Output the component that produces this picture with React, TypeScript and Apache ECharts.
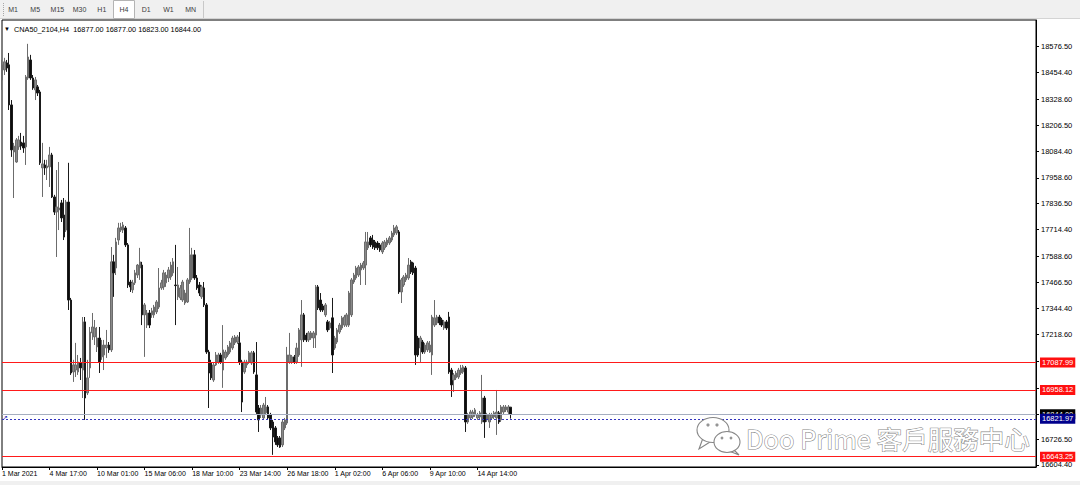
import React, { useEffect, useRef } from 'react';
import * as echarts from 'echarts';

// ---- data (H4 candles) ----
const opens = [
  18420, 18467, 18500, 18491, 18302, 18080, 18033, 18104, 18127, 18123,
  18104, 18429, 18514, 18429, 18373, 18387, 18363, 18005, 18019, 18005,
  18010, 18066, 17868, 17797, 17807, 17840, 17783, 17712, 17844, 17382,
  17043, 17052, 17043, 17085, 17052, 17279, 16944, 17062, 17227, 17208,
  17161, 17203, 17114, 17123, 17156, 17170, 17147, 17562, 17533, 17665,
  17712, 17712, 17722, 17642, 17467, 17430, 17463, 17500, 17533, 17547,
  17312, 17264, 17321, 17312, 17312, 17326, 17349, 17439, 17444, 17463,
  17486, 17491, 17510, 17453, 17397, 17392, 17382, 17368, 17373, 17467,
  17486, 17595, 17486, 17453, 17397, 17439, 17359, 17137, 17085, 17005,
  17076, 17090, 17123, 17052, 17109, 17123, 17137, 17156, 17180, 17184,
  17180, 17090, 17043, 17076, 17090, 17085, 17133, 17029, 16873, 16840,
  16826, 16850, 16878, 16840, 16807, 16779, 16732, 16732, 16699, 16779,
  16802, 17090, 17090, 17114, 17090, 17123, 17194, 17312, 17217, 17194,
  17203, 17203, 17217, 17444, 17382, 17354, 17312, 17279, 17250, 17298,
  17156, 17184, 17231, 17250, 17264, 17264, 17264, 17312, 17467, 17486,
  17500, 17524, 17533, 17547, 17628, 17675, 17665, 17656, 17651, 17642,
  17609, 17628, 17642, 17651, 17665, 17689, 17698, 17703, 17420, 17453,
  17477, 17486, 17562, 17557, 17533, 17203, 17156, 17184, 17137, 17147,
  17137, 17123, 17264, 17274, 17302, 17288, 17250, 17279, 17302, 17052,
  17005, 17015, 17019, 17038, 17043, 17062, 16807, 16826, 16831, 16840,
  16826, 16831, 16807, 16920, 16817, 16807, 16826, 16831, 16826, 16850,
  16817, 16854, 16864, 16854, 16877,
];
const closes = [
  18491, 18505, 18476, 18302, 18090, 18108, 18137, 18137, 18108, 18099,
  18434, 18528, 18429, 18382, 18420, 18358, 18029, 18024, 18005, 18014,
  18066, 17868, 17797, 17821, 17816, 17769, 17679, 17844, 17382, 17038,
  17076, 17076, 17090, 17062, 17279, 16920, 17015, 17231, 17255, 17250,
  17203, 17090, 17170, 17170, 17170, 17147, 17562, 17510, 17656, 17722,
  17727, 17736, 17642, 17453, 17444, 17463, 17510, 17547, 17562, 17312,
  17359, 17321, 17264, 17331, 17349, 17373, 17439, 17463, 17510, 17500,
  17524, 17547, 17562, 17450, 17453, 17439, 17467, 17415, 17477, 17595,
  17595, 17486, 17439, 17415, 17444, 17359, 17137, 17038, 17015, 17076,
  17123, 17123, 17090, 17147, 17137, 17161, 17180, 17203, 17208, 17208,
  17090, 16901, 17090, 17090, 17133, 17133, 17043, 16854, 16817, 16873,
  16887, 16878, 16826, 16779, 16736, 16713, 16699, 16689, 16807, 16817,
  17123, 17123, 17114, 17090, 17156, 17241, 17312, 17194, 17194, 17227,
  17227, 17227, 17444, 17345, 17335, 17335, 17359, 17241, 17274, 17123,
  17203, 17241, 17264, 17298, 17302, 17312, 17415, 17477, 17500, 17533,
  17538, 17547, 17557, 17656, 17656, 17642, 17632, 17628, 17628, 17618,
  17651, 17656, 17665, 17675, 17698, 17722, 17727, 17420, 17477, 17491,
  17500, 17547, 17514, 17510, 17123, 17123, 17203, 17137, 17170, 17180,
  17170, 17302, 17298, 17302, 17274, 17264, 17279, 17250, 17043, 16982,
  17029, 17038, 17052, 17062, 17067, 16807, 16840, 16854, 16854, 16864,
  16840, 16850, 16920, 16807, 16840, 16840, 16840, 16850, 16854, 16807,
  16878, 16878, 16878, 16878, 16844,
];
const lows = [
  18373, 18443, 18458, 18278, 18057, 17863, 18029, 18090, 18090, 18076,
  18019, 18420, 18420, 18373, 18325, 18344, 18019, 17868, 17972, 17948,
  17915, 17863, 17783, 17585, 17712, 17750, 17665, 17703, 17335, 17029,
  16996, 17019, 17029, 17005, 16920, 16817, 16934, 17015, 17194, 17170,
  17137, 17038, 17100, 17052, 17109, 17133, 17137, 17397, 17500, 17642,
  17703, 17698, 17632, 17439, 17420, 17415, 17453, 17486, 17477, 17264,
  17114, 17250, 17250, 17298, 17298, 17316, 17340, 17430, 17430, 17444,
  17467, 17477, 17496, 17264, 17382, 17382, 17373, 17359, 17368, 17458,
  17477, 17477, 17430, 17401, 17387, 17349, 17128, 16873, 17005, 16996,
  17071, 17081, 17081, 16968, 17100, 17114, 17128, 17147, 17170, 17175,
  17076, 16854, 17034, 17062, 17081, 17076, 17034, 16845, 16760, 16826,
  16817, 16840, 16817, 16769, 16652, 16699, 16689, 16685, 16689, 16769,
  16793, 17081, 17081, 17081, 17081, 17114, 17067, 17184, 17184, 17184,
  17194, 17156, 17156, 17335, 17326, 17326, 17302, 17231, 17241, 17038,
  17147, 17175, 17222, 17241, 17255, 17255, 17255, 17302, 17458, 17477,
  17491, 17453, 17524, 17453, 17618, 17632, 17623, 17618, 17618, 17609,
  17599, 17618, 17632, 17642, 17656, 17679, 17689, 17411, 17368, 17444,
  17467, 17477, 17505, 17500, 17076, 17114, 17090, 17128, 17128, 17137,
  17133, 17029, 17255, 17264, 17264, 17255, 17241, 17241, 17034, 16925,
  16949, 17005, 17010, 17029, 17034, 16760, 16798, 16817, 16821, 16831,
  16817, 16821, 16798, 16732, 16807, 16779, 16817, 16821, 16746, 16798,
  16807, 16845, 16854, 16845, 16823,
];
const highs = [
  18514, 18524, 18514, 18547, 18325, 18123, 18146, 18156, 18170, 18156,
  18443, 18590, 18538, 18443, 18434, 18396, 18373, 18123, 18043, 18043,
  18104, 18076, 17878, 17995, 18033, 17854, 17863, 17854, 18029, 17392,
  17100, 17180, 17123, 17109, 17302, 17302, 17100, 17255, 17321, 17288,
  17255, 17255, 17194, 17194, 17241, 17184, 17632, 17595, 17675, 17746,
  17746, 17750, 17731, 17651, 17477, 17477, 17524, 17552, 17628, 17562,
  17368, 17335, 17335, 17345, 17359, 17382, 17533, 17477, 17524, 17514,
  17538, 17562, 17580, 17642, 17538, 17453, 17477, 17430, 17486, 17722,
  17628, 17618, 17500, 17467, 17453, 17467, 17368, 17147, 17100, 17090,
  17137, 17133, 17133, 17264, 17147, 17170, 17189, 17213, 17217, 17217,
  17231, 17100, 17100, 17100, 17142, 17142, 17142, 17184, 16887, 16887,
  16897, 16925, 16887, 16850, 16817, 16788, 16741, 16741, 16817, 16826,
  17161, 17227, 17123, 17123, 17180, 17250, 17382, 17321, 17227, 17236,
  17236, 17236, 17453, 17453, 17415, 17364, 17368, 17288, 17283, 17392,
  17213, 17250, 17274, 17307, 17312, 17321, 17425, 17486, 17510, 17543,
  17547, 17557, 17566, 17703, 17703, 17684, 17689, 17665, 17660, 17651,
  17660, 17665, 17675, 17684, 17708, 17736, 17736, 17712, 17486, 17500,
  17510, 17580, 17571, 17562, 17543, 17213, 17213, 17194, 17180, 17189,
  17189, 17312, 17382, 17312, 17312, 17298, 17288, 17288, 17326, 17062,
  17038, 17048, 17062, 17076, 17076, 17071, 16850, 16864, 16864, 16873,
  16850, 16859, 17029, 16930, 16850, 16850, 16850, 16859, 16958, 16859,
  16887, 16887, 16887, 16887, 16877,
];

const timeLabels = [
  '1 Mar 2021', '4 Mar 17:00', '10 Mar 01:00', '15 Mar 06:00', '18 Mar 10:00',
  '23 Mar 14:00', '26 Mar 18:00', '1 Apr 02:00', '6 Apr 06:00', '9 Apr 10:00', '14 Apr 14:00',
];
const BARS_PER_LABEL = 20;
const TOTAL_SLOTS = 436;

const priceTicks = [
  18576.5, 18454.4, 18328.6, 18206.5, 18084.4, 17958.6, 17836.5, 17714.4, 17588.6,
  17466.5, 17344.4, 17218.6, 17092.5, 16966.4, 16844.3, 16726.5, 16604.4,
];
const hiddenTickLabels = [17092.5, 16966.4, 16844.3];
const Y_MIN = 16594.8;
const Y_MAX = 18702.4;

const redLevels = [17087.99, 16958.12, 16643.25];
const bidLevel = 16844.0;
const dottedLevel = 16821.97;

const symbolName = 'CNA50_2104,H4';
const lastBar = [16877.0, 16877.0, 16823.0, 16844.0];
const periods = ['M1', 'M5', 'M15', 'M30', 'H1', 'H4', 'D1', 'W1', 'MN'];
const activePeriod = 'H4';
const watermark = 'Doo Prime 客戶服務中心';

const FONT = '"Liberation Sans", Arial, sans-serif';

export default function App() {
  const ref = useRef<HTMLDivElement>(null);

  useEffect(() => {
    if (!ref.current) return;
    const chart = echarts.init(ref.current, undefined, { renderer: 'svg' });

    const categories = Array.from({ length: TOTAL_SLOTS }, (_, i) =>
      i % BARS_PER_LABEL === 0 && i / BARS_PER_LABEL < timeLabels.length
        ? timeLabels[i / BARS_PER_LABEL]
        : ''
    );
    const candles = opens.map((o, i) => [o, closes[i], lows[i], highs[i]]);
    const labelValues = priceTicks.filter((v) => !hiddenTickLabels.includes(v));
    const showLabel = (_idx: number, val: string) => val !== '';

    const toolbar: any[] = [
      { type: 'rect', z: 50, shape: { x: 0, y: 0, width: 1080, height: 19 }, style: { fill: '#f0f0f0' } },
      { type: 'line', z: 51, shape: { x1: 0, y1: 18.5, x2: 1080, y2: 18.5 }, style: { stroke: '#d4d4d4', lineWidth: 1 } },
      { type: 'line', z: 51, shape: { x1: 3.5, y1: 3, x2: 3.5, y2: 16 }, style: { stroke: '#a8a8a8', lineWidth: 1, lineDash: [1, 1] } },
      { type: 'line', z: 51, shape: { x1: 203.5, y1: 1, x2: 203.5, y2: 18 }, style: { stroke: '#c8c8c8', lineWidth: 1 } },
    ];
    periods.forEach((p, i) => {
      const cx = 13 + i * 22.2;
      if (p === activePeriod) {
        toolbar.push({
          type: 'rect',
          z: 52,
          shape: { x: cx - 10.5, y: 0.5, width: 21, height: 18 },
          style: { fill: '#ffffff', stroke: '#b4b4b4', lineWidth: 1 },
        });
      }
      toolbar.push({
        type: 'text',
        z: 53,
        x: cx,
        y: 9.5,
        style: {
          text: p,
          fill: '#3c3c3c',
          fontSize: 7,
          fontFamily: FONT,
          textAlign: 'center',
          textVerticalAlign: 'middle',
        },
      });
    });

    const lineLabel = {
      show: true,
      position: 'end',
      distance: 4,
      color: '#ffffff',
      fontSize: 7.5,
      fontFamily: FONT,
      padding: [1, 2, 1, 2],
      formatter: (p: any) => Number(p.value).toFixed(2),
    };

    const wmStroke = '#858585';
    const option: any = {
      animation: false,
      backgroundColor: '#ffffff',
      grid: {
        left: 2,
        right: 44,
        top: 20,
        bottom: 18,
        containLabel: false,
        outerBoundsMode: 'none',
        show: true,
        borderColor: '#000000',
        borderWidth: 1,
        backgroundColor: '#ffffff',
      },
      xAxis: {
        type: 'category',
        data: categories,
        boundaryGap: false,
        axisLine: { show: true, lineStyle: { color: '#000', width: 1 } },
        axisTick: { show: true, interval: showLabel, length: 3, lineStyle: { color: '#000' } },
        axisLabel: {
          show: true,
          interval: showLabel,
          align: 'left',
          margin: 3,
          fontSize: 7,
          fontFamily: FONT,
          color: '#000',
        },
        splitLine: { show: false },
      },
      yAxis: {
        type: 'value',
        position: 'right',
        min: Y_MIN,
        max: Y_MAX,
        axisLine: { show: true, lineStyle: { color: '#000', width: 1 } },
        axisTick: { show: true, length: 3, customValues: priceTicks, lineStyle: { color: '#000' } },
        axisLabel: {
          show: true,
          customValues: labelValues,
          margin: 5,
          fontSize: 7.5,
          fontFamily: FONT,
          color: '#000',
          formatter: (v: number) => Number(v).toFixed(2),
        },
        splitLine: { show: false },
      },
      series: [
        {
          type: 'candlestick',
          data: candles,
          barWidth: 2,
          itemStyle: {
            color: '#8a8a8a',
            color0: '#0c0c0c',
            borderColor: '#6c6c6c',
            borderColor0: '#1a1a1a',
            borderWidth: 1,
          },
          markLine: {
            silent: true,
            symbol: ['none', 'none'],
            animation: false,
            label: lineLabel,
            data: [
              ...redLevels.map((v) => ({
                yAxis: v,
                lineStyle: { color: '#ff1a1a', width: 1, type: 'solid' },
                label: { ...lineLabel, backgroundColor: '#ff1010' },
              })),
              {
                yAxis: bidLevel,
                lineStyle: { color: '#a6aec0', width: 1, type: 'solid' },
                label: { ...lineLabel, backgroundColor: '#000000' },
              },
              {
                yAxis: dottedLevel,
                lineStyle: { color: '#3434c0', width: 1, type: [2, 2] },
                label: { ...lineLabel, backgroundColor: '#00008c' },
              },
            ],
          },
        },
      ],
      graphic: [
        ...toolbar,
        {
          type: 'rect',
          z: 50,
          shape: { x: 0, y: 481, width: 1080, height: 4 },
          style: { fill: '#f0f0f0' },
        },
        {
          type: 'text',
          z: 60,
          x: 4,
          y: 29,
          style: { text: '▼', fontSize: 6, fill: '#000', fontFamily: FONT, textVerticalAlign: 'middle' },
        },
        {
          type: 'text',
          z: 60,
          x: 14,
          y: 29,
          style: {
            text: symbolName + '  ' + lastBar.map((v) => v.toFixed(2)).join(' '),
            fontSize: 7.3,
            fill: '#000',
            fontFamily: FONT,
            textVerticalAlign: 'middle',
          },
        },
        {
          type: 'text',
          z: 60,
          x: 2,
          y: 417,
          style: { text: '↗', fontSize: 7, fill: '#2a2ab4', fontFamily: FONT, textVerticalAlign: 'middle' },
        },
        { type: 'polygon', z: 100, shape: { points: [[703, 438], [699, 449], [710, 442]] }, style: { fill: '#fff', stroke: wmStroke, lineWidth: 1.1 } },
        { type: 'ellipse', z: 101, shape: { cx: 713, cy: 430, rx: 16, ry: 12.5 }, style: { fill: '#fff', stroke: wmStroke, lineWidth: 1.1 } },
        { type: 'circle', z: 102, shape: { cx: 708, cy: 425, r: 1.6 }, style: { fill: '#959595' } },
        { type: 'circle', z: 102, shape: { cx: 717, cy: 425, r: 1.6 }, style: { fill: '#959595' } },
        { type: 'polygon', z: 103, shape: { points: [[733, 449], [739, 455], [729, 451]] }, style: { fill: '#fff', stroke: wmStroke, lineWidth: 1.1 } },
        { type: 'ellipse', z: 104, shape: { cx: 727, cy: 442, rx: 13, ry: 10.5 }, style: { fill: '#fff', stroke: wmStroke, lineWidth: 1.1 } },
        { type: 'circle', z: 105, shape: { cx: 722, cy: 438, r: 1.4 }, style: { fill: '#959595' } },
        { type: 'circle', z: 105, shape: { cx: 731, cy: 438, r: 1.4 }, style: { fill: '#959595' } },
        {
          type: 'text',
          z: 106,
          x: 746,
          y: 437,
          style: {
            text: watermark,
            fontSize: 25.5,
            fontFamily: '"Noto Sans CJK TC", "Noto Sans", sans-serif',
            fill: '#ffffff',
            stroke: wmStroke,
            lineWidth: 1.1,
            textVerticalAlign: 'middle',
          },
        },
      ],
    };

    chart.setOption(option);
    return () => chart.dispose();
  }, []);

  return (
    <div
      ref={ref}
      style={{ position: 'fixed', left: 0, top: 0, width: 1080, height: 485, background: '#ffffff' }}
    />
  );
}
